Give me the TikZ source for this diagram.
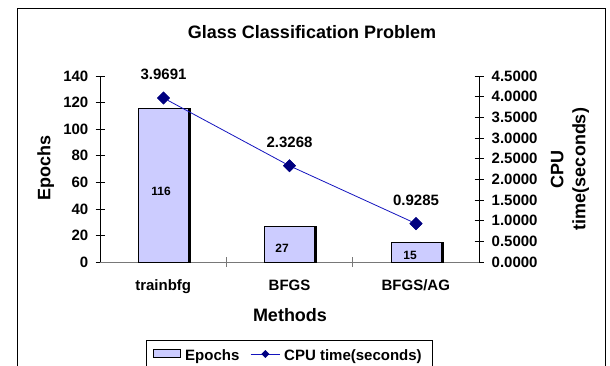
\documentclass[tikz,border=0pt]{standalone}
\usepackage{fontspec}
\setmainfont{Liberation Sans}
\usetikzlibrary{calc,positioning,shapes.geometric}

\definecolor{barfill}{RGB}{204,204,255}
\definecolor{markfill}{RGB}{0,0,128}
\definecolor{cpuline}{RGB}{20,20,190}
\definecolor{axisgray}{RGB}{120,120,120}

\begin{document}
\begin{tikzpicture}[x=1pt, y=-1pt,
    every node/.style={inner sep=0pt, font=\bfseries},
    titlefont/.style={font=\fontsize{18}{22}\selectfont\bfseries},
    ticklbl/.style={font=\fontsize{15}{18}\selectfont\bfseries},
    barval/.style={font=\fontsize{12}{14}\selectfont\bfseries},
    epochbar/.style={draw=black, fill=barfill, line width=0.7pt},
    cpumark/.style={diamond, fill=markfill, minimum width=13pt, minimum height=13pt},
    legmark/.style={diamond, fill=markfill, minimum width=8pt, minimum height=8pt}
    ]

    \useasboundingbox (0,0) rectangle (610,365);

    % outer frame
    \draw[black, line width=0.8pt] (17.7,366) -- (17.7,8.3) -- (605.7,8.3) -- (605.7,366);

    \node[titlefont] (title) at (312,32) {Glass Classification Problem};

    % left axis (epochs)
    \draw[black, line width=0.7pt] (100,76) -- (100,262);
    \foreach \v in {0,20,...,140}
    {
        \pgfmathsetmacro{\yy}{262-\v/140*186}
        \draw[black, line width=0.7pt] (95.5,\yy) -- (104.5,\yy);
        \node[ticklbl, anchor=east] (ep\v) at (88.5,\yy) {\v};
    }

    % right axis (cpu time)
    \draw[black, line width=0.7pt] (479,76) -- (479,262);
    \foreach \i/\t in {0/0.0000,1/0.5000,2/1.0000,3/1.5000,4/2.0000,
                       5/2.5000,6/3.0000,7/3.5000,8/4.0000,9/4.5000}
    {
        \pgfmathsetmacro{\yy}{262-\i/9*186}
        \draw[black, line width=0.7pt] (474.5,\yy) -- (483.5,\yy);
        \node[ticklbl, anchor=west] (cp\i) at (491.5,\yy) {\t};
    }

    % category axis
    \draw[axisgray, line width=0.8pt] (100,262) -- (479,262);
    \foreach \x in {226.3,352.7}
        \draw[axisgray, line width=0.8pt] (\x,257) -- (\x,267);

    % bars
    \foreach \cx/\val/\lx/\ly [count=\k] in {164/116/161/191.7, 290/27/282/248.3, 417.5/15/410/255}
    {
        \pgfmathsetmacro{\bartop}{262-\val/140*186}
        \draw[epochbar] (\cx-26,262) rectangle (\cx+26,\bartop);
        \draw[black, line width=2.6pt] (\cx+25,262) -- (\cx+25,\bartop-0.3);
        \node[barval] (bv\k) at (\lx,\ly) {\val};
    }

    % cpu time series
    \node[cpumark] (m1) at (163.5,98) {};
    \node[cpumark] (m2) at (289.5,165.8) {};
    \node[cpumark] (m3) at (416,223.6) {};
    \draw[cpuline, line width=0.8pt] (m1) -- (m2) -- (m3);
    \node[cpumark] at (m1) {};
    \node[cpumark] at (m2) {};
    \node[cpumark] at (m3) {};

    \node[ticklbl, above=11pt of m1] (v1) {3.9691};
    \node[ticklbl, above=11pt of m2] (v2) {2.3268};
    \node[ticklbl, above=11pt of m3] (v3) {0.9285};

    % category labels
    \node[ticklbl, anchor=base] (c1) at (163.2,290) {trainbfg};
    \node[ticklbl, anchor=base] (c2) at (289.5,290) {BFGS};
    \node[ticklbl, anchor=base] (c3) at (415.8,290) {BFGS/AG};

    % axis titles
    \node[titlefont, anchor=base] (xt) at (290,321.7) {Methods};
    \node[titlefont, rotate=90] (yl) at (45.8,167.5) {Epochs};
    \node[titlefont, rotate=90, align=center] (yr) at (570,169) {CPU\\time(seconds)};

    % legend
    \draw[black, line width=0.7pt] (146.7,366) -- (146.7,340.7) -- (432.7,340.7) -- (432.7,366);
    \draw[epochbar] (153,349.5) rectangle (180,357);
    \node[ticklbl, anchor=base west] (lg1) at (185,360.7) {Epochs};
    \coordinate (la) at (250.7,354);
    \coordinate (lb) at (280,354);
    \draw[cpuline, line width=0.8pt] (la) -- (lb);
    \node[legmark] (lgm) at ($(la)!0.5!(lb)$) {};
    \node[ticklbl, anchor=base west] (lg2) at (284,360.7) {CPU time(seconds)};

\end{tikzpicture}
\end{document}
